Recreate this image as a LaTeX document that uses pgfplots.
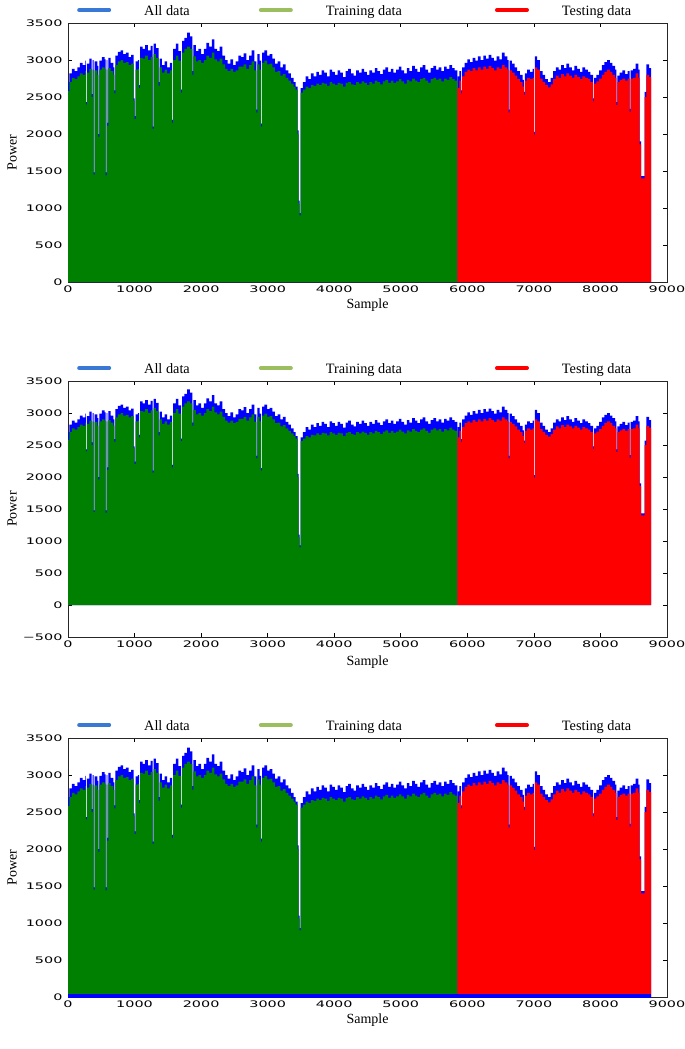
\documentclass[border=0pt]{standalone}
\usepackage{fontspec}
\setmainfont{Liberation Serif}
\newfontfamily\tickfont[FakeStretch=1.6]{DejaVu Sans}
\usepackage{pgfplots}
\usepackage{pgfplotstable}
\pgfplotsset{compat=1.18}
\definecolor{legblue}{RGB}{58,120,214}
\definecolor{leggreen}{RGB}{155,190,95}
\definecolor{plotgreen}{RGB}{0,128,0}
\definecolor{plotblue}{RGB}{0,0,255}
\definecolor{plotred}{RGB}{255,0,0}

\pgfplotstableread{
x all sub
0 2700 2580
20 2820 2700
60 2880 2760
100 2850 2740
140 2900 2780
180 2960 2820
220 2930 2800
260 2990 2850
268 2430 2400
283 2950 2830
320 3020 2880
354 2540 2500
369 3000 2870
386 1480 1450
401 2980 2860
440 2920 2800
458 2000 1960
473 2990 2870
510 3040 2900
550 3010 2880
566 1480 1440
581 3000 2870
590 2150 2110
605 3030 2890
640 2960 2850
680 2900 2800
695 2590 2550
710 3060 2930
750 3110 2980
790 3130 3000
830 3080 2960
870 3100 2970
910 3040 2930
950 3070 2950
985 2480 2450
1000 2240 2200
1015 2980 2870
1050 3000 2880
1070 2660 2620
1085 3180 3030
1120 3150 3020
1160 3200 3060
1200 3130 3000
1240 3190 3040
1270 2100 2070
1285 3220 3080
1320 3160 3030
1360 2700 2650
1375 3020 2900
1410 2930 2830
1450 2980 2870
1490 2900 2820
1530 2960 2860
1565 2190 2150
1580 3150 3000
1620 3220 3060
1660 3120 2990
1700 2600 2560
1715 3260 3100
1750 3300 3150
1790 3370 3180
1830 3320 3150
1870 2850 2800
1885 3200 3050
1920 3120 2980
1960 3150 3000
2000 3080 2960
2040 3150 3000
2080 3230 3060
2120 3180 3030
2160 3280 3100
2200 3150 3010
2240 3120 2980
2280 3180 3020
2320 3060 2940
2360 3000 2880
2400 2950 2850
2440 3010 2880
2480 2930 2840
2520 2980 2860
2560 3060 2910
2600 3040 2910
2640 3090 2940
2680 3000 2880
2720 3060 2930
2760 3130 2980
2800 2980 2860
2830 2330 2290
2845 3080 2940
2880 2990 2870
2900 2140 2100
2915 3100 2960
2950 3130 2990
2990 3060 2940
3030 3080 2950
3070 3020 2900
3110 2950 2840
3150 2980 2850
3190 2900 2790
3230 2940 2810
3270 2860 2760
3310 2820 2720
3350 2760 2680
3390 2700 2640
3420 2640 2600
3450 2050 2000
3465 1100 1060
3480 930 900
3495 2620 2560
3530 2700 2600
3570 2780 2640
3610 2740 2620
3650 2820 2660
3690 2780 2650
3730 2840 2680
3770 2800 2660
3810 2860 2690
3850 2830 2680
3890 2780 2650
3930 2870 2700
3970 2840 2680
4010 2800 2660
4050 2860 2690
4090 2830 2680
4130 2770 2640
4170 2850 2690
4210 2880 2700
4250 2820 2670
4290 2790 2660
4330 2860 2700
4370 2830 2680
4410 2880 2710
4450 2840 2690
4490 2800 2660
4530 2860 2700
4570 2830 2680
4610 2890 2720
4650 2850 2700
4690 2810 2670
4730 2870 2710
4770 2900 2730
4810 2840 2690
4850 2880 2720
4890 2830 2690
4930 2870 2710
4970 2910 2740
5010 2860 2710
5050 2820 2680
5090 2890 2730
5130 2850 2710
5170 2920 2750
5210 2880 2720
5250 2840 2700
5290 2900 2740
5330 2930 2760
5370 2870 2720
5410 2830 2690
5450 2890 2740
5490 2920 2760
5530 2870 2730
5570 2900 2750
5610 2850 2710
5650 2910 2750
5690 2880 2730
5730 2930 2770
5770 2890 2740
5810 2860 2720
5850 2860 2720
}\train

\pgfplotstableread{
x all sub
5850 2780 2620
5880 2850 2720
5905 2590 2550
5920 2900 2780
5960 2960 2840
6000 3010 2870
6040 2970 2850
6080 3030 2890
6120 2990 2860
6160 3050 2900
6200 3000 2870
6240 3060 2910
6280 3020 2880
6320 3070 2920
6360 3030 2890
6400 2990 2860
6440 3050 2900
6480 3010 2880
6520 3100 2930
6560 3050 2900
6600 3000 2870
6620 2330 2290
6635 2990 2860
6670 2950 2830
6710 2900 2790
6750 2850 2740
6790 2800 2700
6830 2730 2640
6850 2570 2530
6865 2820 2720
6900 2870 2760
6940 2840 2740
6980 2880 2760
7000 2030 1990
7015 3050 2900
7050 3000 2870
7090 2850 2750
7130 2800 2700
7170 2740 2660
7210 2700 2630
7250 2760 2670
7290 2850 2740
7330 2900 2790
7370 2870 2760
7410 2930 2810
7450 2890 2780
7490 2950 2820
7530 2900 2790
7570 2860 2760
7610 2920 2800
7650 2880 2770
7690 2840 2740
7730 2900 2780
7770 2870 2760
7810 2840 2740
7850 2800 2700
7890 2480 2440
7905 2760 2680
7940 2800 2710
7980 2860 2750
8020 2930 2800
8060 2970 2840
8100 3000 2870
8140 2960 2840
8180 2920 2800
8220 2870 2760
8240 2430 2390
8255 2790 2700
8290 2830 2730
8330 2860 2750
8370 2810 2720
8410 2850 2750
8440 2340 2300
8455 2860 2750
8490 2880 2760
8530 2950 2820
8570 2870 2760
8590 1900 1860
8610 1430 1400
8665 2570 2500
8690 2940 2800
8730 2890 2770
8760 2890 2770
}\test

\pgfplotsset{
 panel/.style={
  scale only axis, width=599pt,
  xmin=0, xmax=9000,
  xtick={0,1000,...,9000},
  xticklabels={0,1000,2000,3000,4000,5000,6000,7000,8000,9000},
  tick align=inside,
  major tick length=4pt,
  tick style={black, line width=0.6pt},
  axis line style={black!85, line width=0.8pt},
  ticklabel style={font=\tickfont\fontsize{9}{10}\selectfont},
  yticklabel style={xshift=-2pt},
  ylabel={Power},
  xlabel={Sample},
  label style={font=\fontsize{14}{16}\selectfont},
  ylabel style={at={(axis description cs:-0.0935,0.5)}, anchor=center},
  legend columns=3,
  legend style={at={(axis description cs:0.015,1)}, anchor=south west, yshift=6pt,
    draw=none, fill=none, inner sep=0pt,
    font=\fontsize{14.3}{16}\selectfont,
    nodes={inner sep=0pt},
    /tikz/every odd column/.append style={column sep=33pt},
    /tikz/column 2/.append style={column sep=69pt},
    /tikz/column 4/.append style={column sep=93pt}},
  legend image code/.code={\draw[##1, line width=4pt, line cap=round] (0pt,1pt) -- (30pt,1pt);},
 },
}

\begin{document}
\begin{tikzpicture}
\path[use as bounding box] (0,0) rectangle (685pt,-1049pt);

% ---------- (a)
\begin{axis}[panel, at={(68pt,-282pt)}, anchor=south west, height=259pt,
  ymin=0, ymax=3500, ytick={0,500,...,3500},
  yticklabels={0,500,1000,1500,2000,2500,3000,3500},
  xlabel style={at={(axis description cs:0.5,-0.0888)}, anchor=center}]
\addlegendimage{legblue}\addlegendentry{All data}
\addlegendimage{leggreen}\addlegendentry{Training data}
\addlegendimage{plotred}\addlegendentry{Testing data}
\addplot[const plot, fill=plotblue, draw=none, forget plot] table[x=x,y=all]{\train} \closedcycle;
\addplot[const plot, fill=plotblue, draw=none, forget plot] table[x=x,y=all]{\test} \closedcycle;
\addplot[const plot, fill=plotgreen, draw=none, forget plot] table[x=x,y=sub]{\train} \closedcycle;
\addplot[const plot, fill=plotred, draw=none, forget plot] table[x=x,y=sub]{\test} \closedcycle;
\node[font=\bfseries\fontsize{14}{16}\selectfont] at (axis description cs:0.5,-0.155) {(a)};
\end{axis}

% ---------- (b)
\begin{axis}[panel, at={(68pt,-637pt)}, anchor=south west, height=256pt,
  ymin=-500, ymax=3500, ytick={-500,0,...,3500},
  yticklabels={−500,0,500,1000,1500,2000,2500,3000,3500},
  xlabel style={at={(axis description cs:0.5,-0.097)}, anchor=center}]
\addlegendimage{legblue}\addlegendentry{All data}
\addlegendimage{leggreen}\addlegendentry{Training data}
\addlegendimage{plotred}\addlegendentry{Testing data}
\addplot[const plot, fill=plotblue, draw=none, forget plot] table[x=x,y=all]{\train} \closedcycle;
\addplot[const plot, fill=plotblue, draw=none, forget plot] table[x=x,y=all]{\test} \closedcycle;
\addplot[const plot, fill=plotgreen, draw=none, forget plot] table[x=x,y=sub]{\train} \closedcycle;
\addplot[const plot, fill=plotred, draw=none, forget plot] table[x=x,y=sub]{\test} \closedcycle;
\node[font=\bfseries\fontsize{14}{16}\selectfont] at (axis description cs:0.5,-0.168) {(b)};
\end{axis}

% ---------- (c)
\begin{axis}[panel, at={(68pt,-997pt)}, anchor=south west, height=259pt,
  ymin=0, ymax=3500, ytick={0,500,...,3500},
  yticklabels={0,500,1000,1500,2000,2500,3000,3500},
  xlabel style={at={(axis description cs:0.5,-0.0888)}, anchor=center}]
\addlegendimage{legblue}\addlegendentry{All data}
\addlegendimage{leggreen}\addlegendentry{Training data}
\addlegendimage{plotred}\addlegendentry{Testing data}
\addplot[const plot, fill=plotblue, draw=none, forget plot] table[x=x,y=all]{\train} \closedcycle;
\addplot[const plot, fill=plotblue, draw=none, forget plot] table[x=x,y=all]{\test} \closedcycle;
\addplot[const plot, fill=plotgreen, draw=none, forget plot] table[x=x,y=sub]{\train} \closedcycle;
\addplot[const plot, fill=plotred, draw=none, forget plot] table[x=x,y=sub]{\test} \closedcycle;
\addplot[plotblue, line width=6pt, forget plot] coordinates {(0,0) (8760,0)};
\node[font=\fontsize{14}{16}\selectfont] at (axis description cs:0.5,-0.158) {(c)};
\end{axis}
\end{tikzpicture}
\end{document}
